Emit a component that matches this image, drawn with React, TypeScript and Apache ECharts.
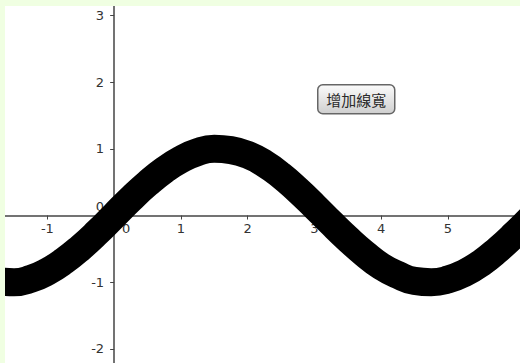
import React, { useEffect, useRef } from "react";
import * as echarts from "echarts";

// Points (x in axis units, y in axis units)
const xValues = [
  -1.75, -1.5, -1.25, -1.0, -0.75, -0.5, -0.25, 0, 0.25, 0.5, 0.75, 1.0, 1.25, 1.5,
  1.75, 2.0, 2.25, 2.5, 2.75, 3.0, 3.25, 3.5, 3.75, 4.0, 4.25, 4.5, 4.75, 5.0, 5.25,
  5.5, 5.75, 6.0, 6.25,
];
const yValues = [
  -0.98, -1.0, -0.95, -0.84, -0.68, -0.48, -0.25, 0, 0.25, 0.48, 0.68, 0.84, 0.95, 1.0,
  0.98, 0.91, 0.78, 0.6, 0.38, 0.14, -0.11, -0.35, -0.57, -0.76, -0.89, -0.98, -1.0,
  -0.96, -0.86, -0.71, -0.51, -0.28, -0.03,
];
const xTickValues = [-1, 1, 2, 3, 4, 5];
const xLabelValues = [-1, 0, 1, 2, 3, 4, 5];
const yTickValues = [-2, -1, 1, 2, 3];
const yLabelValues = [-2, -1, 0, 1, 2, 3];
const buttonText = "增加線寬";

const X_MIN = -1.635;
const X_MAX = 6.08;
const Y_MIN = -2.21;
const Y_MAX = 3.14;
const CHART_W = 515;
const CHART_H = 357;

export default function App() {
  const ref = useRef<HTMLDivElement>(null);

  useEffect(() => {
    document.body.style.margin = "0";
    if (!ref.current) return;
    const chart = echarts.init(ref.current, null, { renderer: "svg" });
    const axisColor = "#444";
    const labelColor = "#333";
    const labelFont = "DejaVu Sans";
    // place the axes where the other axis is zero
    const yZeroFromBottom = ((0 - Y_MIN) / (Y_MAX - Y_MIN)) * CHART_H;
    const xZeroFromLeft = ((0 - X_MIN) / (X_MAX - X_MIN)) * CHART_W;
    chart.setOption({
      animation: false,
      backgroundColor: "#ffffff",
      grid: {
        left: 0,
        right: 0,
        top: 0,
        bottom: 0,
        containLabel: false,
        outerBoundsMode: "none",
      },
      xAxis: {
        type: "value",
        min: X_MIN,
        max: X_MAX,
        position: "bottom",
        offset: -yZeroFromBottom,
        axisLine: { onZero: false, lineStyle: { color: axisColor, width: 1.5 } },
        axisTick: {
          show: true,
          customValues: xTickValues,
          length: 4,
          lineStyle: { color: axisColor, width: 1 },
        },
        axisLabel: {
          customValues: xLabelValues,
          margin: 6,
          fontSize: 13,
          fontFamily: labelFont,
          color: labelColor,
          formatter: (v: number) => (v === 0 ? "{zx|0}" : String(v)),
          rich: {
            zx: {
              fontSize: 13,
              fontFamily: labelFont,
              color: labelColor,
              padding: [0, 0, 0, 24],
            },
          },
        },
        splitLine: { show: false },
      },
      yAxis: {
        type: "value",
        min: Y_MIN,
        max: Y_MAX,
        position: "left",
        offset: -xZeroFromLeft,
        axisLine: { onZero: false, lineStyle: { color: axisColor, width: 1.5 } },
        axisTick: {
          show: true,
          customValues: yTickValues,
          length: 4,
          lineStyle: { color: axisColor, width: 1 },
        },
        axisLabel: {
          customValues: yLabelValues,
          margin: 10,
          fontSize: 13,
          fontFamily: labelFont,
          color: labelColor,
          formatter: (v: number) => (v === 0 ? "{zy|0}" : String(v)),
          rich: {
            zy: {
              fontSize: 13,
              fontFamily: labelFont,
              color: labelColor,
              padding: [0, 0, 19, 0],
            },
          },
        },
        splitLine: { show: false },
      },
      series: [
        {
          type: "line",
          data: xValues.map((x, i) => [x, yValues[i]]),
          smooth: true,
          showSymbol: false,
          symbol: "none",
          clip: true,
          lineStyle: { color: "#000000", width: 28 },
          z: 5,
        },
      ],
      graphic: [
        {
          type: "group",
          left: 312,
          top: 78,
          z: 100,
          children: [
            {
              type: "rect",
              shape: { x: 0, y: 0, width: 77, height: 29, r: 5 },
              style: {
                fill: {
                  type: "linear",
                  x: 0,
                  y: 0,
                  x2: 0,
                  y2: 1,
                  colorStops: [
                    { offset: 0, color: "#fbfbfb" },
                    { offset: 1, color: "#cfcfcf" },
                  ],
                },
                stroke: "#666",
                lineWidth: 1.5,
              },
            },
            {
              type: "text",
              x: 38.5,
              y: 15,
              style: {
                text: buttonText,
                align: "center",
                verticalAlign: "middle",
                font: '15px "Noto Sans CJK TC"',
                fill: "#2a2a2a",
              },
            },
          ],
        },
      ],
    });
    return () => chart.dispose();
  }, []);

  return (
    <div
      style={{
        position: "fixed",
        left: 0,
        top: 0,
        width: 520,
        height: 363,
        background: "#f0ffe2",
        overflow: "hidden",
      }}
    >
      <div
        ref={ref}
        style={{ position: "absolute", left: 5, top: 6, width: CHART_W, height: CHART_H }}
      />
    </div>
  );
}
